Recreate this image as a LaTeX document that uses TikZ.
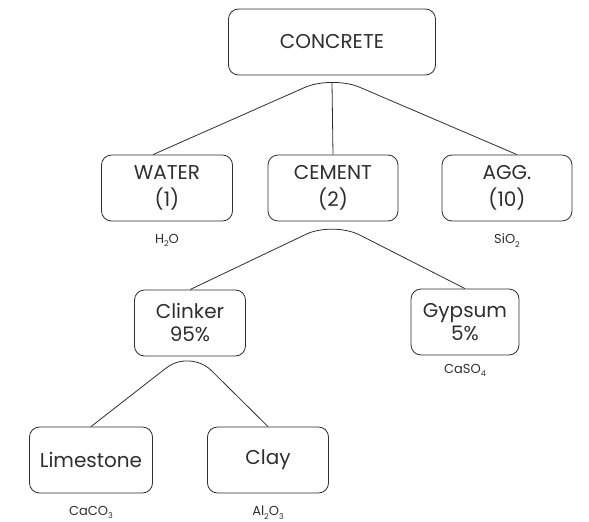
\documentclass[tikz,border=0pt]{standalone}
\usepackage{fontspec}
\setmainfont{Poppins}
\usepackage{tikz}
\usetikzlibrary{calc}
\definecolor{ink}{HTML}{2E2E2E}
\newcommand{\lowsub}[1]{\raisebox{-3.5pt}{\fontsize{8}{8}\selectfont #1}}

\begin{document}
\begin{tikzpicture}[x=1pt,y=-1pt,
    box/.style={draw=ink, text=ink, line width=0.8pt, rounded corners=10pt,
        align=center, minimum height=66pt, inner sep=1pt,
        font=\fontsize{20}{27}\selectfont},
    lowbox/.style={box, font=\fontsize{20}{23}\selectfont},
    formula/.style={text=ink, font=\fontsize{13}{14}\selectfont},
    link/.style={draw=ink, line width=0.8pt, rounded corners=30pt}]
    \useasboundingbox (0,0) rectangle (589,522);
    % boxes
    \node[box, minimum width=207pt] (concrete) at (332,42) {CONCRETE};
    \node[box, minimum width=131pt] (water) at (167,188) {WATER\\(1)};
    \node[box, minimum width=130pt] (cement) at (333,188) {CEMENT\\(2)};
    \node[box, minimum width=130pt] (agg) at (507,188) {AGG.\\(10)};
    \node[lowbox, minimum width=111pt] (clinker) at (190,323) {Clinker\\95\%};
    \node[lowbox, minimum width=108pt] (gypsum) at (465,322) {Gypsum\\5\%};
    \node[box, minimum width=123pt] (limestone) at (91,460) {Limestone};
    \node[box, minimum width=121pt] (clay) at (268,460) {Clay};
    % formulas
    \foreach \p/\f in {water/H\lowsub{2}O, agg/SiO\lowsub{2},
        limestone/CaCO\lowsub{3}, clay/Al\lowsub{2}O\lowsub{3}} {
        \node[formula, below=9pt] (\p-f) at (\p.south) {\f};
    }
    \node[formula, below=5pt] (gypsum-f) at (gypsum.south) {CaSO\lowsub{4}};
    % links
    \draw[link] ([xshift=-14pt]water.north) -- (concrete.south) -- ([xshift=10pt]agg.north);
    \draw[draw=ink, line width=0.8pt] ([yshift=-7pt]concrete.south) -- (cement.north);
    \draw[link] (clinker.north) -- (cement.south) -- (gypsum.north);
    \draw[link] (limestone.north) -- ([yshift=7pt]clinker.south) -- (clay.north);
\end{tikzpicture}
\end{document}
